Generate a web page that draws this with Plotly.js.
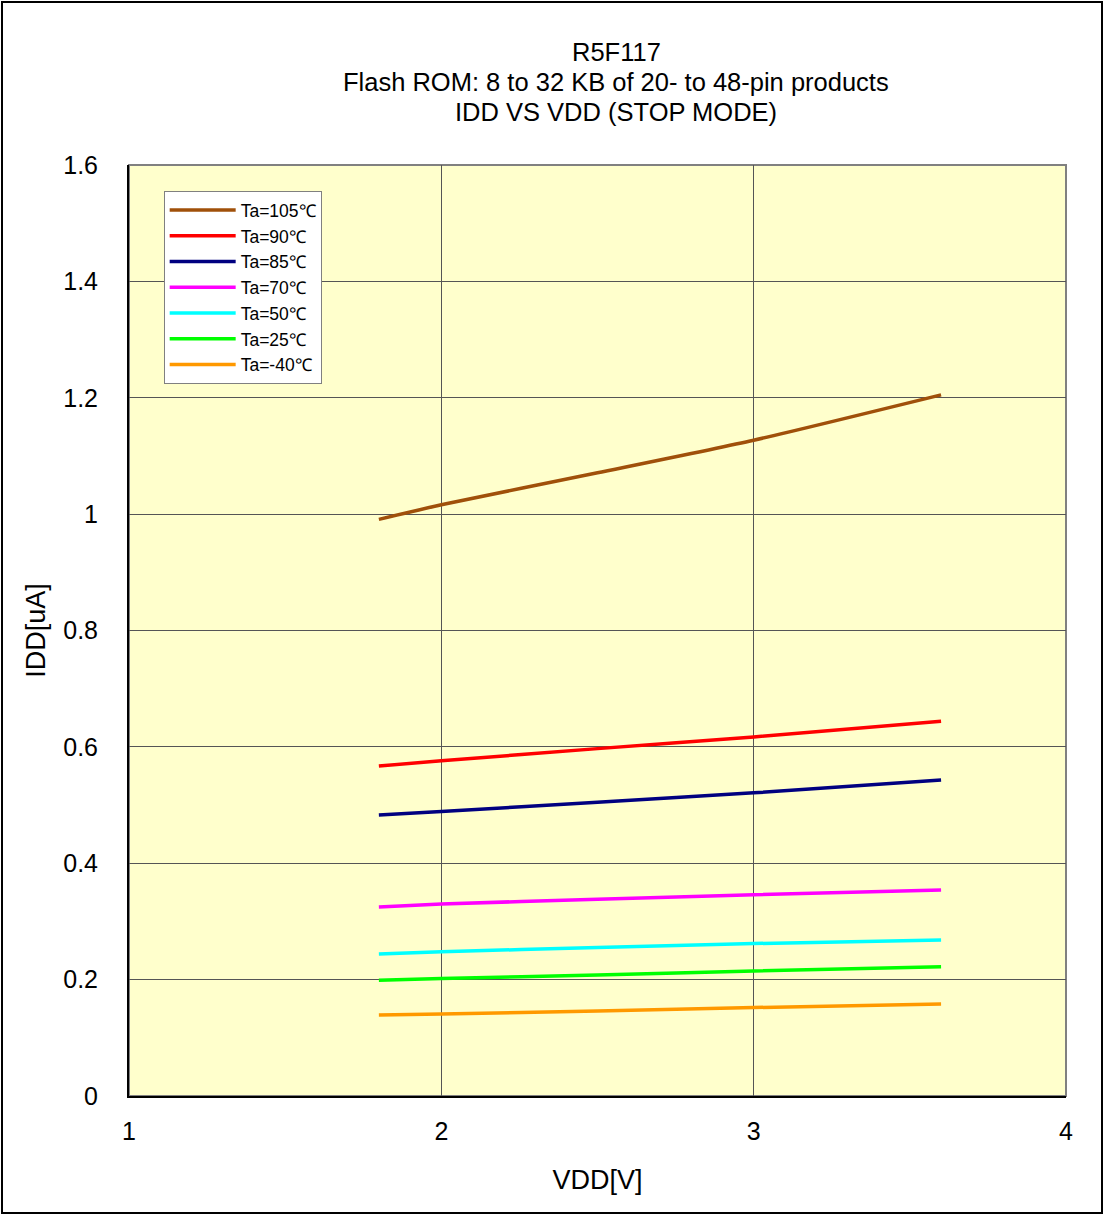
<!DOCTYPE html>
<html>
<head>
<meta charset="utf-8">
<script src="https://cdn.plot.ly/plotly-3.0.1.min.js"></script>
<style>
  html, body { margin: 0; padding: 0; background: #fff; }
  #wrap { position: relative; width: 1104px; height: 1214px; }
  #chart { position: absolute; left: 0; top: 0; width: 1104px; height: 1214px; }
  #frame { position: absolute; left: 1px; top: 1px; width: 1098px; height: 1209px; border: 2px solid #000; pointer-events: none; }
</style>
</head>
<body>
<div id="wrap"><div id="chart"></div><div id="frame"></div></div>
<script>
const vdd = [1.8, 2.0, 2.5, 3.0, 3.6];
const seriesNames = ["Ta=105℃", "Ta=90℃", "Ta=85℃", "Ta=70℃", "Ta=50℃", "Ta=25℃", "Ta=-40℃"];
const idd105 = [0.991, 1.016, 1.071, 1.127, 1.205];
const idd90  = [0.567, 0.576, 0.597, 0.617, 0.644];
const idd85  = [0.483, 0.489, 0.505, 0.521, 0.543];
const idd70  = [0.325, 0.330, 0.338, 0.346, 0.354];
const idd50  = [0.244, 0.248, 0.255, 0.262, 0.268];
const idd25  = [0.199, 0.202, 0.208, 0.215, 0.222];
const iddM40 = [0.139, 0.141, 0.146, 0.152, 0.158];
const xTicks = [1, 2, 3, 4];
const yTicks = [0, 0.2, 0.4, 0.6, 0.8, 1, 1.2, 1.4, 1.6];
const yTickText = ["0", "0.2", "0.4", "0.6", "0.8", "1", "1.2", "1.4", "1.6"];
const titleLines = ["R5F117", "Flash ROM: 8 to 32 KB of 20- to 48-pin products", "IDD VS VDD (STOP MODE)"];

const seriesValues = [idd105, idd90, idd85, idd70, idd50, idd25, iddM40];
const colors = ["#A0500A", "#FF0000", "#000080", "#FF00FF", "#00FFFF", "#00FF00", "#FF9900"];

const traces = seriesValues.map((ys, i) => ({
  x: vdd, y: ys, type: "scatter", mode: "lines",
  name: seriesNames[i],
  line: { color: colors[i], width: 3.5, shape: "spline", smoothing: 0.6 }
}));

const font = "Liberation Sans, Arial, sans-serif";
const layout = {
  width: 1104, height: 1214,
  margin: { l: 129, r: 38, t: 165, b: 118 },
  paper_bgcolor: "rgba(0,0,0,0)",
  plot_bgcolor: "#FFFFCC",
  font: { family: font, color: "#000" },
  showlegend: true,
  legend: {
    x: 0.037, y: 0.972, xanchor: "left", yanchor: "top",
    bgcolor: "#FFFFFF", bordercolor: "#808080", borderwidth: 1,
    font: { family: font, size: 17.5, color: "#000" },
    tracegroupgap: 0, itemwidth: 66
  },
  xaxis: {
    range: [1, 4], tickvals: xTicks, ticktext: xTicks.map(String),
    showgrid: true, gridcolor: "#555555", gridwidth: 1,
    zeroline: false, showline: true, linecolor: "#000", linewidth: 2,
    ticks: "", ticklabelstandoff: 12,
    tickfont: { family: font, size: 25, color: "#000" },
    title: { text: "VDD[V]", font: { family: font, size: 27, color: "#000" }, standoff: 26 }
  },
  yaxis: {
    range: [0, 1.6], tickvals: yTicks, ticktext: yTickText,
    showgrid: true, gridcolor: "#555555", gridwidth: 1,
    zeroline: false, showline: true, linecolor: "#000", linewidth: 2,
    ticks: "", ticklabelstandoff: 24,
    tickfont: { family: font, size: 25, color: "#000" },
    title: { text: "IDD[uA]", font: { family: font, size: 27, color: "#000" }, standoff: 10 }
  },
  shapes: [{
    type: "rect", xref: "paper", yref: "paper", x0: 0, x1: 1, y0: 0, y1: 1,
    line: { color: "#808080", width: 2 }, layer: "below"
  }],
  annotations: titleLines.map((t, i) => ({
    text: t, xref: "paper", yref: "paper", x: 0.52, y: 1 + (113 - 30 * i) / 931,
    xanchor: "center", yanchor: "middle", showarrow: false,
    font: { family: font, size: 25.5, color: "#000" }
  }))
};

Plotly.newPlot("chart", traces, layout, { displayModeBar: false, staticPlot: true });
</script>
</body>
</html>
